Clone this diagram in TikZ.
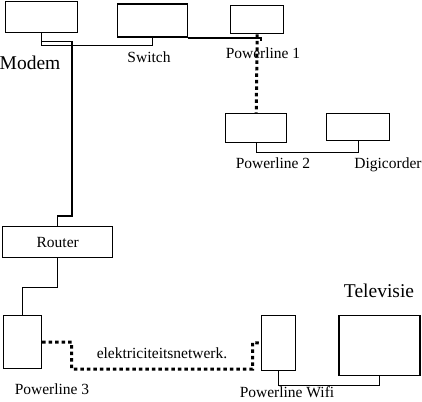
\documentclass[tikz,border=0pt]{standalone}
\usepackage{fontspec}
\setmainfont{Liberation Serif}
\begin{document}
\begin{tikzpicture}[x=1pt,y=-1pt,
  box/.style={draw,line width=1.4pt,inner sep=0pt,anchor=north west},
  wire/.style={line width=1.4pt},
  pwr/.style={line width=3pt,dash pattern=on 3.5pt off 3pt},
  lbl/.style={inner sep=0pt,anchor=base,font=\fontsize{15.5}{18}\selectfont},
  big/.style={inner sep=0pt,anchor=base,font=\fontsize{19.5}{22}\selectfont}]
\useasboundingbox (0,0) rectangle (422,401);
% boxes
\node[box,minimum width=72pt,minimum height=31pt] (modem) at (4.5,1) {};
\node[box,minimum width=70pt,minimum height=33pt] (switch) at (117,3.5) {};
\node[box,minimum width=53pt,minimum height=28pt] (pl1) at (230,5) {};
\node[box,minimum width=61pt,minimum height=29pt] (pl2) at (225,113) {};
\node[box,minimum width=63pt,minimum height=27pt] (digi) at (326,113) {};
\node[box,minimum width=110pt,minimum height=31pt] (router) at (2,226) {};
\node[box,minimum width=38pt,minimum height=53pt] (pl3) at (2.7,315) {};
\node[box,minimum width=34pt,minimum height=55pt] (pw) at (261,315) {};
\node[box,minimum width=81pt,minimum height=60pt] (tv) at (338.3,315) {};
% labels
\node[big] (tmodem) at (30,70) {Modem};
\node[lbl] (tswitch) at (149,62.5) {Switch};
\node[lbl] (tpl1) at (263,58.5) {Powerline 1};
\node[lbl] (tpl2) at (273,168.3) {Powerline 2};
\node[lbl] (tdigi) at (388,168.3) {Digicorder};
\node[lbl] at (router.center) [anchor=center] (trouter) {Router};
\node[lbl] (tpl3) at (52,394.3) {Powerline 3};
\node[lbl] (tnet) at (162,358.3) {elektriciteitsnetwerk.};
\node[lbl] (tpw) at (287,397.7) {Powerline Wifi};
\node[big] (ttv) at (379,297.7) {Televisie};
% connectors
\coordinate (pl1end) at (261,41);
\draw[wire] (modem.south) -- ++(0,12) -| (switch.south);
\draw[wire] (modem.south) -- ++(0,8) -| (72,216) -| (router.north);
\draw[wire] (switch.south east) -| (pl1end);
\draw[pwr] (pl1.south) -- (pl2.north);
\draw[wire] (pl2.south) -- ++(0,9) -| (digi.south);
\draw[wire] (router.south) -- ++(0,29) -| (pl3.north);
\draw[pwr] (pl3.east) -| (71.7,369) -| (252.7,342.5) -- (pw.west);
\draw[wire] (pw.south) -- ++(0,14) -| (tv.south);
\end{tikzpicture}
\end{document}
